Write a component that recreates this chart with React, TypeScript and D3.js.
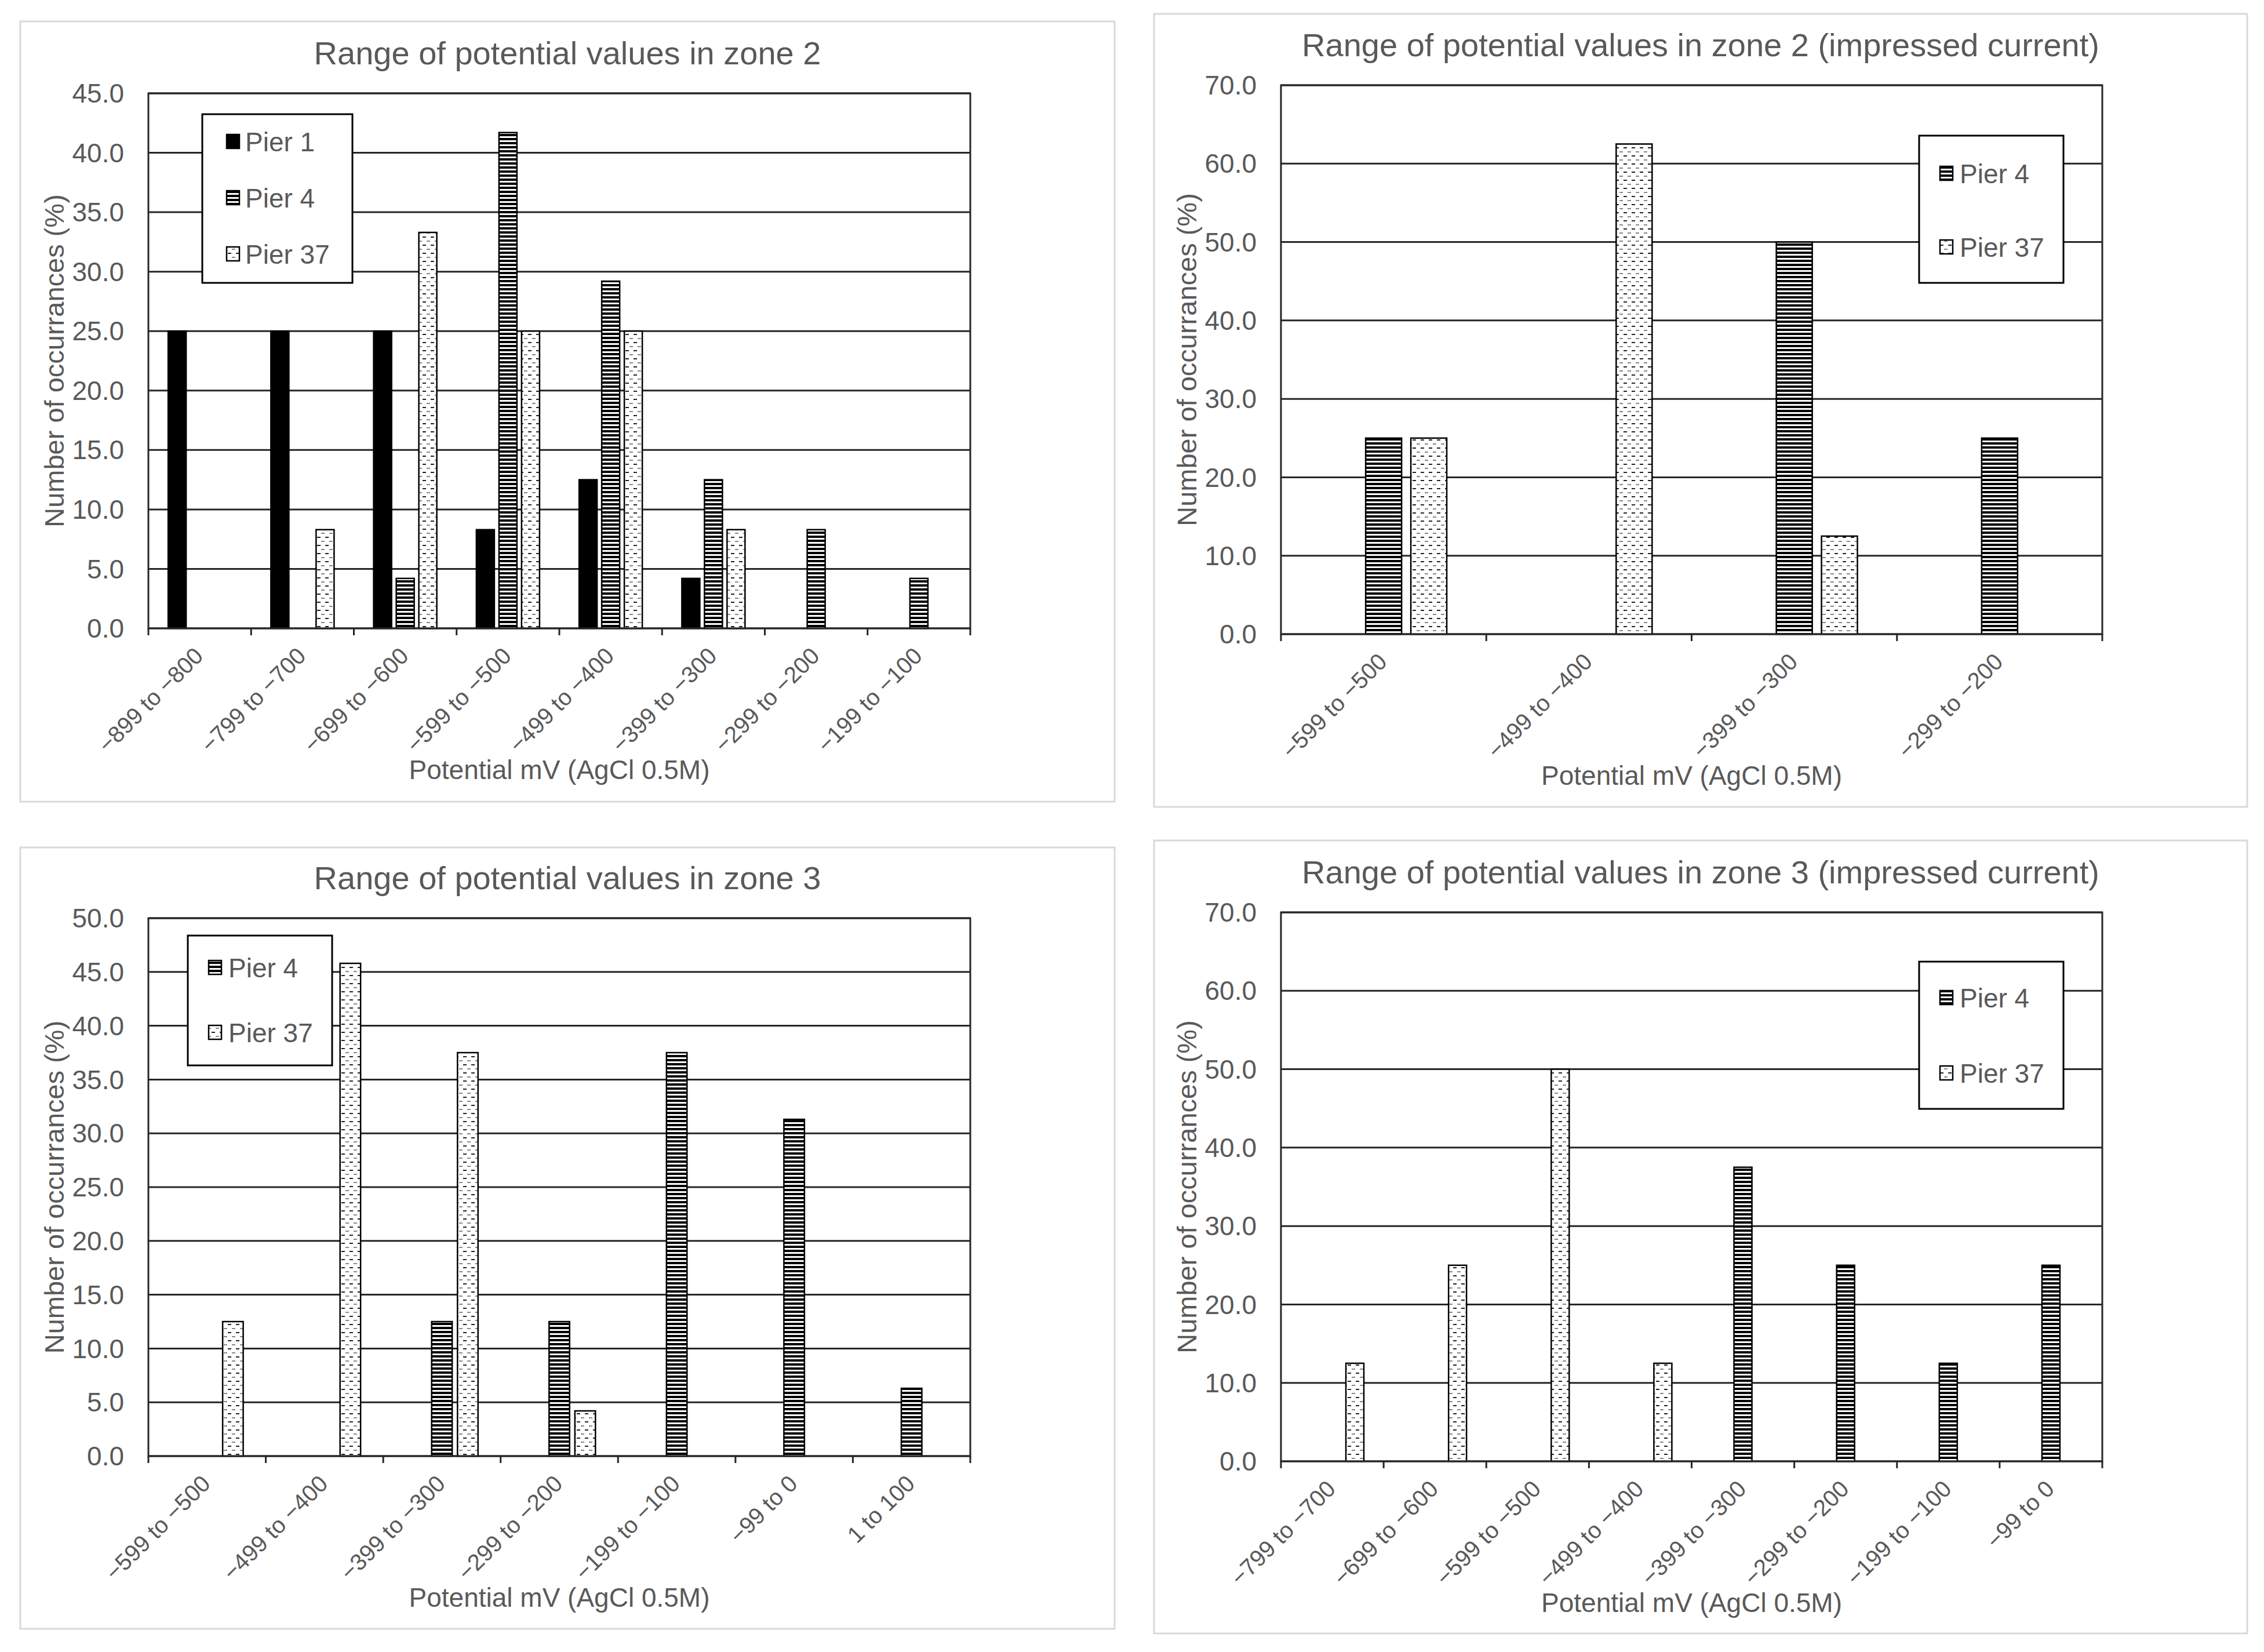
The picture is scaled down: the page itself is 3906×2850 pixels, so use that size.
import * as d3 from "d3";

// categories (mV ranges)
const zone2Cats = ["−899 to −800", "−799 to −700", "−699 to −600", "−599 to −500", "−499 to −400", "−399 to −300", "−299 to −200", "−199 to −100"];
const zone2IcCats = ["−599 to −500", "−499 to −400", "−399 to −300", "−299 to −200"];
const zone3Cats = ["−599 to −500", "−499 to −400", "−399 to −300", "−299 to −200", "−199 to −100", "−99 to 0", "1 to 100"];
const zone3IcCats = ["−799 to −700", "−699 to −600", "−599 to −500", "−499 to −400", "−399 to −300", "−299 to −200", "−199 to −100", "−99 to 0"];

// % of occurrences
const zone2Pier1 = [25, 25, 25, 8.3, 12.5, 4.2, 0, 0];
const zone2Pier4 = [0, 0, 4.2, 41.7, 29.2, 12.5, 8.3, 4.2];
const zone2Pier37 = [0, 8.3, 33.3, 25, 25, 8.3, 0, 0];

const zone2IcPier4 = [25, 0, 50, 25];
const zone2IcPier37 = [25, 62.5, 12.5, 0];

const zone3Pier4 = [0, 0, 12.5, 12.5, 37.5, 31.3, 6.3];
const zone3Pier37 = [12.5, 45.8, 37.5, 4.2, 0, 0, 0];

const zone3IcPier4 = [0, 0, 0, 0, 37.5, 25, 12.5, 25];
const zone3IcPier37 = [12.5, 25, 50, 12.5, 0, 0, 0, 0];

const FONT = "'Liberation Sans', Arial, sans-serif";
const TXT = "#595959";
const LINE = "#262626";

type Series = { name: string; slot: number; fill: string; values: number[] };

type Panel = {
  title: string;
  cats: string[];
  series: Series[];
  yMax: number;
  yStep: number;
  frame: { x0: number; y0: number; x1: number; y1: number };
  plot: { l: number; t: number; r: number; b: number };
  legend: { x: number; y: number; w: number; h: number; rows: number[]; sw: number; tx: number };
};

const P1 = "#000";
const P4 = "url(#stripes)";
const P37 = "url(#dots)";

const panels: Panel[] = [
  {
    title: "Range of potential values in zone 2",
    cats: zone2Cats,
    series: [
      { name: "Pier 1", slot: 0, fill: P1, values: zone2Pier1 },
      { name: "Pier 4", slot: 1, fill: P4, values: zone2Pier4 },
      { name: "Pier 37", slot: 2, fill: P37, values: zone2Pier37 },
    ],
    yMax: 45,
    yStep: 5,
    frame: { x0: 35, y0: 37, x1: 1923, y1: 1383 },
    plot: { l: 256, t: 161, r: 1674, b: 1084 },
    legend: { x: 349, y: 197, w: 259, h: 291, rows: [244, 341, 438], sw: 42, tx: 74 },
  },
  {
    title: "Range of potential values in zone 2 (impressed current)",
    cats: zone2IcCats,
    series: [
      { name: "Pier 4", slot: 1, fill: P4, values: zone2IcPier4 },
      { name: "Pier 37", slot: 2, fill: P37, values: zone2IcPier37 },
    ],
    yMax: 70,
    yStep: 10,
    frame: { x0: 1991, y0: 24, x1: 3877, y1: 1392 },
    plot: { l: 2210, t: 147, r: 3627, b: 1094 },
    legend: { x: 3311, y: 234, w: 249, h: 254, rows: [299, 426], sw: 36, tx: 70 },
  },
  {
    title: "Range of potential values in zone 3",
    cats: zone3Cats,
    series: [
      { name: "Pier 4", slot: 1, fill: P4, values: zone3Pier4 },
      { name: "Pier 37", slot: 2, fill: P37, values: zone3Pier37 },
    ],
    yMax: 50,
    yStep: 5,
    frame: { x0: 35, y0: 1462, x1: 1923, y1: 2810 },
    plot: { l: 256, t: 1584, r: 1674, b: 2512 },
    legend: { x: 324, y: 1614, w: 249, h: 224, rows: [1669, 1781], sw: 36, tx: 70 },
  },
  {
    title: "Range of potential values in zone 3 (impressed current)",
    cats: zone3IcCats,
    series: [
      { name: "Pier 4", slot: 1, fill: P4, values: zone3IcPier4 },
      { name: "Pier 37", slot: 2, fill: P37, values: zone3IcPier37 },
    ],
    yMax: 70,
    yStep: 10,
    frame: { x0: 1991, y0: 1450, x1: 3877, y1: 2818 },
    plot: { l: 2210, t: 1574, r: 3627, b: 2521 },
    legend: { x: 3311, y: 1659, w: 249, h: 254, rows: [1721, 1851], sw: 36, tx: 70 },
  },
];

function Chart({ p }: { p: Panel }) {
  const { plot, frame, legend } = p;
  const x = d3.scaleBand<string>().domain(p.cats).range([plot.l, plot.r]).padding(0);
  const y = d3.scaleLinear().domain([0, p.yMax]).range([plot.b, plot.t]);
  const ticks = d3.range(0, p.yMax + p.yStep / 2, p.yStep);
  const bw = x.bandwidth();
  const barW = bw * 0.175;
  const step = bw * 0.22;
  const fmt = d3.format(".1f");
  const boundaries = p.cats.map((c) => x(c)!).concat([plot.r]);
  const cy = (plot.t + plot.b) / 2;

  return (
    <g>
      <rect
        x={frame.x0}
        y={frame.y0}
        width={frame.x1 - frame.x0}
        height={frame.y1 - frame.y0}
        fill="#fff"
        stroke="#d9d9d9"
        strokeWidth={3}
      />
      <text
        x={(frame.x0 + frame.x1) / 2}
        y={plot.t - 50}
        textAnchor="middle"
        fontSize={56}
        fill={TXT}
      >
        {p.title}
      </text>

      {/* gridlines */}
      {ticks.map((t) => (
        <line key={t} x1={plot.l} x2={plot.r} y1={y(t)} y2={y(t)} stroke={LINE} strokeWidth={3} />
      ))}
      {ticks.map((t) => (
        <text
          key={"l" + t}
          x={plot.l - 42}
          y={y(t)}
          dy="0.35em"
          textAnchor="end"
          fontSize={46}
          fill={TXT}
        >
          {fmt(t)}
        </text>
      ))}

      {/* bars */}
      {p.series.map((s) =>
        s.values.map((v, i) =>
          v > 0 ? (
            <rect
              key={s.name + i}
              x={x(p.cats[i])! + bw / 2 + (s.slot - 1) * step - barW / 2}
              y={y(v)}
              width={barW}
              height={y(0) - y(v)}
              fill={s.fill}
              stroke="#000"
              strokeWidth={2.5}
            />
          ) : null
        )
      )}

      {/* plot frame + ticks */}
      <rect
        x={plot.l}
        y={plot.t}
        width={plot.r - plot.l}
        height={plot.b - plot.t}
        fill="none"
        stroke={LINE}
        strokeWidth={3}
      />
      {boundaries.map((bx, i) => (
        <line key={"t" + i} x1={bx} x2={bx} y1={plot.b} y2={plot.b + 12} stroke={LINE} strokeWidth={3} />
      ))}
      {p.cats.map((c) => (
        <text
          key={"c" + c}
          transform={`translate(${x(c)! + bw / 2 + 8},${plot.b + 50}) rotate(-45)`}
          textAnchor="end"
          fontSize={40}
          fill={TXT}
        >
          {c}
        </text>
      ))}

      <text x={(plot.l + plot.r) / 2} y={plot.b + 260} textAnchor="middle" fontSize={46} fill={TXT}>
        Potential mV (AgCl 0.5M)
      </text>
      <text
        transform={`translate(${plot.l - 162},${cy}) rotate(-90)`}
        textAnchor="middle"
        dy="0.35em"
        fontSize={47}
        fill={TXT}
      >
        Number of occurrances (%)
      </text>

      {/* legend */}
      <rect x={legend.x} y={legend.y} width={legend.w} height={legend.h} fill="#fff" stroke="#000" strokeWidth={3} />
      {p.series.map((s, i) => (
        <g key={"lg" + s.name}>
          <rect
            x={legend.x + legend.sw}
            y={legend.rows[i] - 12}
            width={22}
            height={24}
            fill={s.fill}
            stroke="#000"
            strokeWidth={2.5}
          />
          <text x={legend.x + legend.tx} y={legend.rows[i]} dy="0.36em" fontSize={46} fill={TXT}>
            {s.name}
          </text>
        </g>
      ))}
    </g>
  );
}

export default function App() {
  return (
    <svg
      width={3906}
      height={2850}
      style={{ position: "absolute", left: 0, top: 0, background: "#fff" }}
      fontFamily={FONT}
    >
      <defs>
        <pattern id="stripes" patternUnits="userSpaceOnUse" width={8} height={7}>
          <rect width={8} height={7} fill="#000" />
          <rect y={4} width={8} height={3} fill="#fff" />
        </pattern>
        <pattern id="dots" patternUnits="userSpaceOnUse" width={14} height={14}>
          <rect width={14} height={14} fill="#fff" />
          <rect x={1} y={2} width={6} height={2} fill="#222" />
          <rect x={8} y={9} width={6} height={2} fill="#888" />
        </pattern>
      </defs>
      <rect width={3906} height={2850} fill="#fff" />
      {panels.map((p) => (
        <Chart key={p.title} p={p} />
      ))}
    </svg>
  );
}
